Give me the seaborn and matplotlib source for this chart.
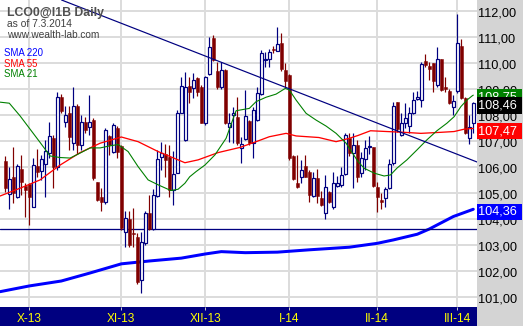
import matplotlib
matplotlib.use("Agg")
import matplotlib.pyplot as plt
from matplotlib.patches import Rectangle
import seaborn as sns

# ---------------- data ----------------
opens = [106.21, 104.93, 105.61, 104.82, 105.89, 105.25, 105.33, 104.46, 106.02, 105.84,
         106.12, 106.51, 107.09, 106.00, 108.69, 107.73, 108.07, 106.92, 108.33, 106.83,
         107.73, 107.51, 107.79, 105.42, 104.84, 104.65, 107.18, 106.57, 107.50, 106.80,
         103.50, 104.00, 103.45, 103.30, 101.64, 103.05, 104.23, 103.60, 104.87, 106.36,
         106.50, 106.36, 105.10, 105.77, 108.08, 107.03, 109.10, 109.01, 109.40, 109.08,
         107.66, 109.56, 110.94, 109.69, 109.08, 109.72, 107.51, 107.99, 107.92, 106.70,
         107.08, 107.76, 106.90, 107.80, 108.79, 110.10, 110.13, 110.53, 110.46, 110.74,
         109.72, 109.52, 106.41, 105.36, 105.59, 106.02, 105.81, 104.87, 105.55, 104.78,
         104.20, 105.04, 104.46, 105.26, 105.30, 105.72, 107.09, 106.54, 106.83, 105.77,
         106.28, 106.76, 106.74, 105.21, 104.70, 104.78, 105.17, 106.13, 108.50, 107.22,
         107.69, 107.56, 108.05, 108.59, 108.56, 110.08, 109.87, 110.00, 109.14, 110.13,
         109.05, 108.92, 108.31, 108.92, 110.64, 108.63, 107.09, 107.69]
highs = [106.41, 106.00, 106.77, 106.12, 106.45, 105.36, 105.36, 106.32, 106.66, 106.45,
         107.02, 107.71, 107.21, 108.88, 108.79, 108.33, 108.33, 109.07, 108.41, 107.98,
         107.92, 108.75, 107.86, 105.42, 105.16, 107.47, 107.21, 107.66, 107.57, 106.85,
         104.30, 104.30, 104.41, 103.45, 103.50, 104.30, 104.91, 105.13, 106.64, 106.96,
         106.87, 106.85, 106.61, 108.18, 109.46, 109.65, 109.46, 109.61, 109.46, 109.15,
         109.50, 111.00, 111.06, 110.04, 110.04, 109.75, 108.08, 108.30, 108.69, 107.15,
         108.95, 107.80, 108.28, 109.08, 110.49, 110.42, 110.51, 110.64, 111.36, 111.15,
         110.00, 109.55, 106.45, 106.45, 106.26, 106.45, 105.87, 105.81, 105.90, 105.08,
         105.68, 105.08, 105.81, 105.64, 106.00, 107.28, 107.28, 107.28, 107.02, 106.58,
         107.02, 107.18, 106.77, 105.42, 104.97, 105.23, 106.28, 108.50, 108.50, 108.08,
         108.46, 108.31, 108.88, 108.92, 110.04, 110.33, 110.04, 110.00, 110.62, 110.13,
         109.44, 108.97, 108.76, 111.87, 110.90, 108.67, 107.99, 108.50]
lows = [105.04, 104.36, 104.59, 104.80, 104.91, 104.07, 103.75, 104.44, 105.61, 105.48,
        104.82, 106.32, 105.16, 105.87, 108.05, 107.54, 106.64, 106.64, 106.48, 106.64,
        107.28, 107.21, 105.48, 104.69, 104.30, 104.55, 106.45, 106.51, 106.32, 103.55,
        102.90, 102.90, 102.90, 101.50, 101.13, 103.00, 103.55, 103.58, 104.85, 105.87,
        105.61, 104.84, 104.52, 105.75, 108.05, 107.00, 108.44, 108.63, 108.70, 107.66,
        107.60, 109.52, 110.05, 108.97, 109.00, 107.63, 106.96, 106.90, 106.85, 106.13,
        107.02, 106.85, 106.32, 107.77, 108.75, 109.85, 109.85, 110.36, 110.43, 109.69,
        109.08, 106.26, 105.49, 105.17, 105.36, 105.59, 104.65, 104.85, 104.59, 104.49,
        103.97, 104.62, 104.36, 105.23, 105.23, 105.68, 106.41, 105.17, 105.42, 105.62,
        105.87, 106.49, 105.23, 104.27, 104.36, 104.46, 105.13, 106.06, 107.35, 107.18,
        107.47, 107.28, 108.03, 108.56, 108.31, 109.85, 109.33, 108.88, 109.05, 108.92,
        108.88, 108.41, 107.99, 108.85, 108.59, 107.25, 106.87, 107.31]
closes = [105.16, 105.51, 104.97, 106.02, 105.42, 105.10, 104.84, 106.05, 105.80, 106.28,
          106.60, 107.18, 106.00, 108.69, 108.15, 107.98, 107.15, 108.33, 106.83, 107.73,
          107.41, 107.73, 105.55, 104.71, 104.65, 107.41, 106.83, 107.60, 106.57, 103.63,
          104.01, 103.00, 103.40, 101.58, 103.10, 104.20, 103.60, 104.91, 106.28, 106.54,
          106.27, 105.10, 105.72, 108.08, 109.10, 109.05, 108.88, 109.33, 108.89, 107.69,
          109.46, 110.62, 110.10, 109.08, 109.72, 107.66, 107.67, 108.06, 106.90, 106.87,
          107.95, 106.90, 108.18, 108.82, 110.36, 110.13, 110.42, 110.50, 110.72, 109.74,
          109.31, 106.32, 105.51, 105.23, 105.87, 105.62, 104.91, 105.55, 104.87, 104.52,
          105.20, 104.65, 105.38, 105.36, 105.68, 107.22, 106.51, 106.83, 105.62, 106.32,
          106.71, 106.80, 105.26, 104.85, 104.65, 105.13, 106.10, 108.33, 107.44, 107.67,
          107.86, 108.05, 108.56, 108.69, 109.95, 109.91, 109.74, 109.31, 110.13, 108.95,
          108.97, 108.44, 108.54, 110.77, 108.63, 107.28, 107.54, 108.46]

month_labels = ["X-13", "XI-13", "XII-13", "I-14", "II-14", "III-14"]
month_pos = [6, 29, 50, 71, 93, 113]
price_ticks = [101, 102, 103, 104, 105, 106, 107, 108, 109, 110, 111, 112]

sma220_x = [-1.3, 6, 14, 21, 29, 36, 44, 50, 54, 60, 68, 76, 86, 93, 97, 103, 106, 112, 117]
sma220_y = [101.19, 101.41, 101.60, 101.90, 102.26, 102.37, 102.48, 102.64, 102.73, 102.69,
            102.71, 102.80, 102.90, 103.05, 103.18, 103.40, 103.60, 104.08, 104.36]

sma55_x = [-1.3, 3.7, 8.7, 13.7, 18.7, 23.7, 29, 33.2, 38.2, 43.2, 44.9, 48.2, 53.2, 58.7,
           62.7, 66, 70.2, 72.7, 78.4, 82.7, 86, 88.2, 91.3, 95.4, 99.7, 103.9, 108.9, 112.2,
           114.7, 117]
sma55_y = [104.87, 105.17, 105.49, 106.06, 106.54, 106.90, 107.14, 106.96, 106.58, 106.26,
           106.15, 106.26, 106.54, 106.74, 106.96, 107.15, 107.28, 107.18, 107.12, 106.96,
           107.09, 107.20, 107.38, 107.35, 107.32, 107.28, 107.32, 107.35, 107.44, 107.47]

sma21_x = [-1.3, 1, 3.7, 6.2, 8.7, 11.2, 13.7, 16.2, 18.7, 21.2, 23.7, 26.2, 28.2, 30.7,
           33.2, 35.7, 38.2, 41.4, 43.2, 44.9, 46.1, 47.7, 49.9, 52.4, 55.2, 57.3, 57.7, 61,
           62.7, 65.2, 67.7, 70, 71, 72.7, 75.2, 77.7, 80.2, 82.7, 85.2, 88.2, 89.7, 92.2,
           94.7, 96.3, 97.9, 100.4, 102.9, 105.4, 107.9, 110.4, 112.2, 113.9, 115.4, 116.7, 117]
sma21_y = [108.48, 108.44, 107.95, 107.44, 106.93, 106.41, 106.35, 106.33, 106.52, 106.72,
           106.72, 106.80, 106.85, 106.58, 106.00, 105.49, 105.30, 105.08, 105.13, 105.36,
           105.61, 105.81, 106.06, 106.45, 107.09, 107.99, 108.15, 108.24, 108.50, 108.67,
           108.79, 109.01, 108.95, 108.56, 108.05, 107.79, 107.56, 107.28, 106.90, 106.19,
           105.94, 105.75, 105.64, 105.68, 105.94, 106.26, 106.64, 107.03, 107.38, 107.67,
           107.92, 108.31, 108.56, 108.72, 108.75]

trend_x = [14.4, 117.9]
trend_y = [112.39, 106.18]
support_level = 103.59

last_sma21 = 108.75
last_close = 108.46
last_sma55 = 107.47
last_sma220 = 104.36

title_text = "LCO0@I1B Daily"
sub1_text = "as of 7.3.2014"
sub2_text = "www.wealth-lab.com"
legend_names = ["SMA 220", "SMA 55", "SMA 21"]

# ---------------- styling ----------------
sns.set_style("white")
plt.rcParams["font.family"] = ["Liberation Sans", "DejaVu Sans"]

W, H = 523, 326
PLOT_R = 477
BAND = 19
PX = 1 / 100 * 72  # points per pixel

UP = "#000080"
DOWN = "#800000"
GRID = "#DCDCDC"
PANEL = "#D4D4D4"

fig = plt.figure(figsize=(W / 100, H / 100), dpi=100)
fig.patch.set_facecolor("white")

ax = fig.add_axes([0, BAND / H, PLOT_R / W, (H - BAND) / H])
ax.set_facecolor("white")
ymin, ymax = 100.60, 112.41
ax.set_xlim(-1.325, 117.925)
ax.set_ylim(ymin, ymax)
for s in ax.spines.values():
    s.set_visible(False)
ax.set_xticks(month_pos)
ax.set_yticks(price_ticks)
ax.grid(True, color=GRID, linewidth=2 * PX, zorder=0)
ax.set_axisbelow(True)
ax.tick_params(axis="y", left=False, labelleft=False)
ax.tick_params(axis="x", bottom=True, labelbottom=False, length=2.5, width=1 * PX,
               color="#C8C8C8", direction="out")

# month labels in the band
for pos, lab in zip(month_pos, month_labels):
    ax.text(pos, -15 / (H - BAND), lab, transform=ax.get_xaxis_transform(),
            ha="center", va="baseline", color="#FFFF00", fontsize=8.6, clip_on=False)

# SMA 220 (thick blue)
sns.lineplot(x=sma220_x, y=sma220_y, ax=ax, color="#0000FF", linewidth=3 * PX,
             zorder=2, sort=False)
# support line
ax.axhline(support_level, color=UP, linewidth=1.3 * PX, zorder=2)

# candles
xs = list(range(len(opens)))
for i in xs:
    o, h, l, c = opens[i], highs[i], lows[i], closes[i]
    up = c >= o
    col = UP if up else DOWN
    ax.vlines(i, l, h, color=col, linewidth=1.2 * PX, zorder=3)
    bottom = min(o, c)
    height = max(abs(c - o), 0.03)
    if up:
        ax.bar(i, height, bottom=bottom, width=0.62, facecolor="white",
               edgecolor=col, linewidth=1.2 * PX, zorder=4)
    else:
        ax.bar(i, height, bottom=bottom, width=0.72, facecolor=col,
               edgecolor=col, linewidth=0.5 * PX, zorder=4)

# SMA 55 and SMA 21
sns.lineplot(x=sma55_x, y=sma55_y, ax=ax, color="#FF0000", linewidth=1.3 * PX,
             zorder=5, sort=False)
sns.lineplot(x=sma21_x, y=sma21_y, ax=ax, color="#008000", linewidth=1.1 * PX,
             zorder=5, sort=False)
# trend line
ax.axline((trend_x[0], trend_y[0]), (trend_x[1], trend_y[1]), color=UP,
          linewidth=1.2 * PX, zorder=5)
ax.set_xlabel("")
ax.set_ylabel("")

# bottom band
fig.patches.append(Rectangle((0, 0), PLOT_R / W, BAND / H, transform=fig.transFigure,
                             facecolor="#000080", edgecolor="none", zorder=-1))

# right panel
axr = fig.add_axes([PLOT_R / W, 0, (W - PLOT_R) / W, 1])
axr.set_xlim(0, W - PLOT_R)
axr.set_ylim(ymax - H / 26.0, ymax)
axr.set_xticks([])
axr.set_yticks([])
for s in axr.spines.values():
    s.set_visible(False)
axr.set_facecolor(PANEL)

OFF = 0.10
BOXH = 16.7 / 26.0
for v in price_ticks:
    axr.text(1.0, v - OFF, f"{v:.2f}".replace(".", ","), ha="left", va="center",
             fontsize=9.2, color="black", zorder=1)

boxes = [(last_sma21, "#008000", 2), (last_close, "#000000", 3),
         (last_sma55, "#FF0000", 4), (last_sma220, "#0000FF", 5)]
for val, colr, z in boxes:
    axr.add_patch(Rectangle((0, val - OFF - BOXH / 2), 44.5, BOXH, facecolor=colr,
                            edgecolor="none", zorder=z))
    axr.text(1.3, val - OFF, f"{val:.2f}".replace(".", ","), ha="left", va="center",
             fontsize=9.2, color="white", zorder=z + 0.1)

# top-left texts
def fy(px):
    return 1 - px / H

fig.text(7 / W, fy(15.7), title_text, fontsize=8.8, fontweight="bold",
         color="#505050", va="baseline")
fig.text(7 / W, fy(27.3), sub1_text, fontsize=7.4, color="#404040", va="baseline")
fig.text(7 / W, fy(38.0), sub2_text, fontsize=7.3, color="#404040", va="baseline")
for name, colr, ypx in zip(legend_names, ["#0000FF", "#FF0000", "#008000"],
                           [55.7, 66.7, 77.3]):
    fig.text(4 / W, fy(ypx), name, fontsize=6.9, color=colr, va="baseline")

fig.savefig("out.png", dpi=100)
